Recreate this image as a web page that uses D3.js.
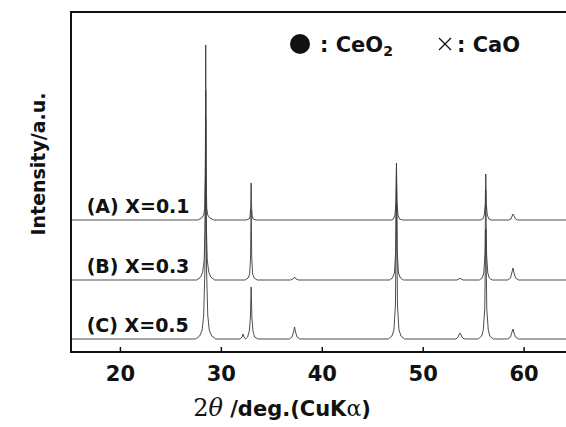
<!DOCTYPE html>
<html>
<head>
<meta charset="utf-8">
<script src="https://cdn.jsdelivr.net/npm/d3@7"></script>
<style>
  html, body { margin: 0; padding: 0; background: #fff; }
</style>
</head>
<body>
<div id="chart"></div>
<script>
/**
 * Data.
 */
// Sample labels and vertical offsets of each pattern (arbitrary units).
const sampleLabels = ["(A) X=0.1", "(B) X=0.3", "(C) X=0.5"];
const sampleOffsets = [132, 72, 13];

// X axis ticks.
const xTicks = [20, 30, 40, 50, 60];

// Diffraction patterns: [2theta, intensity above own baseline].
const patternA = [
  [15.15, 0],
  [27.7, 0], [28.1, 2], [28.3, 5], [28.4, 12], [28.46, 45], [28.5, 175], [28.54, 45], [28.6, 12], [28.7, 5], [28.9, 2], [29.3, 0],
  [32.5, 0], [32.8, 1], [32.9, 4], [32.96, 14], [33.0, 37], [33.04, 14], [33.1, 4], [33.2, 1], [33.5, 0],
  [46.9, 0], [47.1, 1], [47.25, 5], [47.35, 18], [47.4, 57], [47.45, 18], [47.55, 5], [47.7, 1], [48.0, 0],
  [55.7, 0], [55.95, 1], [56.1, 5], [56.2, 16], [56.25, 46], [56.3, 16], [56.4, 5], [56.55, 1], [56.8, 0],
  [58.5, 0], [58.75, 1], [58.9, 5], [58.95, 6], [59.05, 4], [59.2, 1], [59.4, 0],
  [64.2, 0],
];

const patternB = [
  [15.15, 0],
  [27.6, 0], [28.0, 3], [28.2, 8], [28.35, 20], [28.45, 60], [28.5, 190], [28.55, 60], [28.65, 20], [28.8, 8], [29.0, 3], [29.4, 0],
  [32.4, 0], [32.7, 2], [32.85, 6], [32.94, 22], [33.0, 70], [33.06, 22], [33.15, 6], [33.3, 2], [33.6, 0],
  [36.9, 0], [37.15, 1], [37.3, 3], [37.45, 1], [37.7, 0],
  [46.7, 0], [47.0, 2], [47.2, 7], [47.32, 28], [47.4, 110], [47.48, 28], [47.6, 7], [47.8, 2], [48.1, 0],
  [53.4, 0], [53.6, 1], [53.7, 2], [53.8, 1], [54.0, 0],
  [55.6, 0], [55.9, 2], [56.05, 7], [56.17, 26], [56.25, 90], [56.33, 26], [56.45, 7], [56.6, 2], [56.9, 0],
  [58.4, 0], [58.7, 2], [58.85, 8], [58.95, 12], [59.05, 7], [59.2, 2], [59.5, 0],
  [64.2, 0],
];

const patternC = [
  [15.15, 0],
  [27.5, 0], [27.9, 3], [28.15, 9], [28.3, 24], [28.42, 70], [28.5, 220], [28.58, 70], [28.7, 24], [28.85, 9], [29.1, 3], [29.5, 0],
  [31.9, 0], [32.1, 2], [32.2, 5], [32.3, 2], [32.45, 0], [32.65, 2], [32.82, 8], [32.93, 22], [33.0, 52], [33.07, 22], [33.18, 8], [33.35, 2], [33.7, 0],
  [36.8, 0], [37.05, 2], [37.2, 7], [37.3, 12], [37.4, 7], [37.55, 2], [37.8, 0],
  [46.6, 0], [46.95, 3], [47.15, 9], [47.3, 34], [47.4, 150], [47.5, 34], [47.65, 9], [47.85, 3], [48.2, 0],
  [53.3, 0], [53.5, 2], [53.62, 5], [53.7, 6], [53.8, 4], [53.95, 1], [54.2, 0],
  [55.5, 0], [55.85, 3], [56.0, 9], [56.15, 30], [56.25, 110], [56.35, 30], [56.5, 9], [56.65, 3], [57.0, 0],
  [58.4, 0], [58.7, 2], [58.85, 7], [58.95, 10], [59.05, 6], [59.2, 2], [59.5, 0],
  [64.2, 0],
];

const patterns = [patternA, patternB, patternC];

// Legend entries.
const legendItems = [
  { symbol: "circle", text: ": CeO", sub: "2" },
  { symbol: "cross", text: ": CaO", sub: "" },
];

/**
 * Renders the XRD figure.
 *
 * @param {string} selector - The selector of the container div.
 * @returns {void}
 */
function XrdChart(selector) {
  /**
   * Parameters.
   */
  const width = 566;
  const height = 427;
  const margin = { top: 12, right: 0, bottom: 75, left: 71 };
  const font = "'DejaVu Sans', sans-serif";

  /**
   * SVG container.
   */
  const container = d3.select(selector);
  container.selectAll("*").remove();

  const svg = container
    .append("svg")
    .attr("width", width)
    .attr("height", height)
    .style("display", "block");

  /**
   * Scales.
   */
  const x = d3
    .scaleLinear()
    .domain([15.15, 64.2])
    .range([margin.left, width - margin.right]);

  const y = d3
    .scaleLinear()
    .domain([0, 340])
    .range([height - margin.bottom, margin.top]);

  /**
   * Patterns.
   */
  const line = d3
    .line()
    .x((d) => x(d[0]))
    .y((d) => y(d[1]));

  svg
    .append("g")
    .selectAll("path")
    .data(patterns)
    .enter()
    .append("path")
    .attr("d", (d, i) => line(d.map((p) => [p[0], p[1] + sampleOffsets[i]])))
    .attr("fill", "none")
    .attr("stroke", "#3a3a3a")
    .attr("stroke-width", 0.9)
    .attr("stroke-linejoin", "round");

  // Sample labels above each baseline.
  svg
    .append("g")
    .selectAll("text")
    .data(sampleLabels)
    .enter()
    .append("text")
    .attr("x", x(16.7))
    .attr("y", (d, i) => y(sampleOffsets[i]) - 7)
    .text((d) => d)
    .style("font-family", font)
    .style("font-weight", "bold")
    .style("font-size", "19px")
    .attr("fill", "#111");

  /**
   * Axes.
   */
  const xAxis = d3
    .axisBottom(x)
    .tickValues(xTicks)
    .tickSize(-5)
    .tickPadding(14)
    .tickFormat(d3.format("d"));

  const gx = svg
    .append("g")
    .attr("transform", `translate(0,${height - margin.bottom})`)
    .call(xAxis);

  gx.select(".domain").remove();
  gx.selectAll(".tick line").attr("stroke", "#111").attr("stroke-width", 1.5);
  gx.selectAll(".tick text")
    .style("font-family", font)
    .style("font-weight", "bold")
    .style("font-size", "21px")
    .attr("fill", "#111");

  // Frame: left, top and bottom edges.
  svg
    .append("path")
    .attr(
      "d",
      `M${width},${margin.top}H${margin.left}V${height - margin.bottom}H${width}`
    )
    .attr("fill", "none")
    .attr("stroke", "#111")
    .attr("stroke-width", 2);

  /**
   * Axis titles.
   */
  svg
    .append("text")
    .attr("transform", `translate(45,${(margin.top + height - margin.bottom) / 2 - 18}) rotate(-90)`)
    .attr("text-anchor", "middle")
    .text("Intensity/a.u.")
    .style("font-family", font)
    .style("font-weight", "bold")
    .style("font-size", "19px")
    .attr("fill", "#111");

  const xTitle = svg
    .append("text")
    .attr("x", 282)
    .attr("y", 416)
    .attr("text-anchor", "middle")
    .attr("fill", "#111");

  xTitle
    .append("tspan")
    .text("2")
    .style("font-family", "'DejaVu Serif', serif")
    .style("font-size", "24px");
  xTitle
    .append("tspan")
    .text("θ")
    .style("font-family", "'DejaVu Serif', serif")
    .style("font-style", "italic")
    .style("font-size", "24px");
  xTitle
    .append("tspan")
    .text(" /deg.(CuK")
    .style("font-family", font)
    .style("font-weight", "bold")
    .style("font-size", "21px");
  xTitle
    .append("tspan")
    .text("α")
    .style("font-family", "'DejaVu Serif', serif")
    .style("font-size", "22px");
  xTitle
    .append("tspan")
    .text(")")
    .style("font-family", font)
    .style("font-weight", "bold")
    .style("font-size", "21px");

  /**
   * Legend.
   */
  const legendX = [300, 445];
  const legendTextX = [20, 12];
  const legendY = 44;

  const legend = svg
    .append("g")
    .selectAll("g")
    .data(legendItems)
    .enter()
    .append("g")
    .attr("transform", (d, i) => `translate(${legendX[i]},${legendY})`);

  legend
    .filter((d) => d.symbol === "circle")
    .append("circle")
    .attr("r", 10)
    .attr("fill", "#111");

  legend
    .filter((d) => d.symbol === "cross")
    .append("path")
    .attr("d", "M-6,-6L6,6M6,-6L-6,6")
    .attr("stroke", "#111")
    .attr("stroke-width", 1.3);

  const legendText = legend
    .append("text")
    .attr("x", (d, i) => legendTextX[i])
    .attr("y", 8)
    .attr("fill", "#111")
    .style("font-family", font)
    .style("font-weight", "bold")
    .style("font-size", "21px");

  legendText.append("tspan").text((d) => d.text);
  legendText
    .append("tspan")
    .attr("dy", 4)
    .style("font-size", "14px")
    .text((d) => d.sub);
}

XrdChart("#chart");
</script>
</body>
</html>
